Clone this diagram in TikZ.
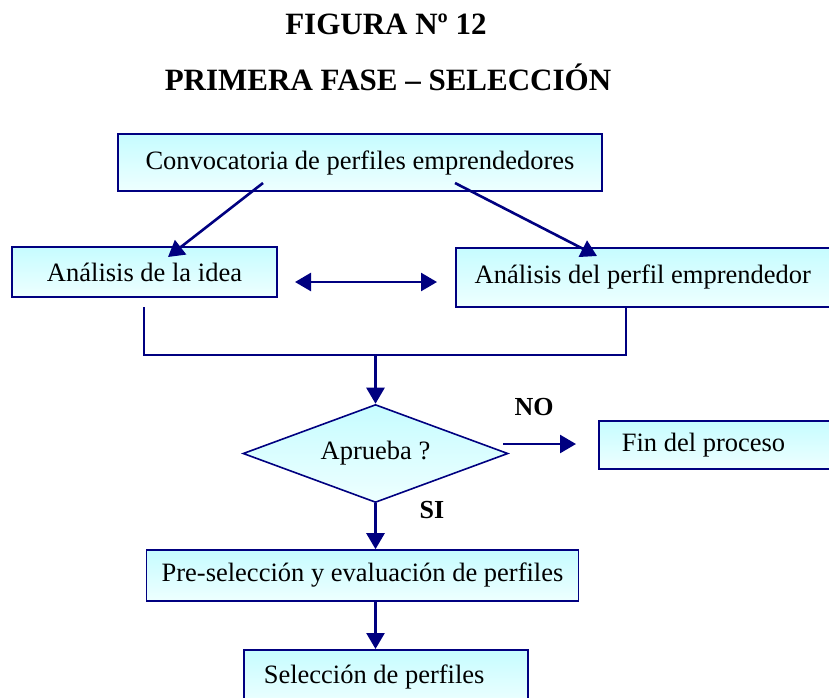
\documentclass[tikz,border=0pt]{standalone}
\usepackage{fontspec}
\setmainfont{Liberation Serif}
\usetikzlibrary{arrows.meta,shapes.geometric}
\definecolor{navy}{HTML}{000080}
\definecolor{boxtop}{HTML}{C6FCFF}
\definecolor{boxbot}{HTML}{EEFFFF}
\tikzset{
  boxa/.style={draw=navy, line width=1.6pt, top color=boxtop, bottom color=boxbot, inner sep=0pt, font=\fontsize{26.5}{30}\selectfont},
  link/.style={draw=navy, line width=2.6pt, -{Triangle[width=18pt,length=16pt]}},
  plain/.style={draw=navy, line width=2.2pt},
  lbl/.style={font=\bfseries\fontsize{26}{30}\selectfont},
  ttl/.style={font=\bfseries\fontsize{31}{36}\selectfont}
}
\begin{document}
\begin{tikzpicture}[x=1pt,y=-1pt]
\useasboundingbox (0,0) rectangle (829,697);
\node[ttl] (t1) at (386,24) {FIGURA Nº 12};
\node[ttl] (t2) at (388,77) {PRIMERA FASE – SELECCIÓN};
% boxes
\node[boxa, minimum width=484pt, minimum height=57pt] (conv) at (360,162.5) {Convocatoria de perfiles emprendedores};
\node[boxa, minimum width=265pt, minimum height=50pt] (idea) at (144.5,272) {Análisis de la idea};
\node[boxa, minimum width=374pt, minimum height=59pt, anchor=north west] (perf) at (455,247) {Análisis del perfil emprendedor};
\node[boxa, diamond, aspect=2.73, minimum width=265pt, minimum height=98pt] (dec) at (375.5,453.5) {Aprueba ?};
\node[boxa, minimum width=240pt, minimum height=48pt, anchor=north west, text width=236pt, align=flush left] (fin) at (598,420) {\hspace*{21pt}Fin del proceso};
\node[boxa, minimum width=432pt, minimum height=51pt] (pre) at (362.5,575.5) {Pre-selección y evaluación de perfiles};
\node[boxa, minimum width=284pt, minimum height=56pt, anchor=north west, text width=280pt, align=flush left] (sel) at (243,649) {\raisebox{8pt}{\hspace*{18pt}Selección de perfiles}};
% connectors
\coordinate (c1) at (263,183);
\coordinate (c1e) at (168,257);
\coordinate (c2) at (455,183);
\coordinate (c2e) at (597,256);
\draw[link] (c1) -- (c1e);
\draw[link] (c2) -- (c2e);
\coordinate (d1) at (295,282);
\coordinate (d2) at (437,282);
\draw[link, {Triangle[width=18pt,length=16pt]}-{Triangle[width=18pt,length=16pt]}] (d1) -- (d2);
\coordinate (l1) at (144,307);
\coordinate (l2) at (144,355);
\coordinate (r2) at (626,355);
\coordinate (m) at (375.5,355);
\draw[plain] (l1) -- (l2) -- (r2) -- (perf.south -| r2);
\draw[link] (m) -- (dec.north);
\coordinate (n1) at (503,444);
\coordinate (n2) at (576,444);
\draw[link] (n1) -- (n2);
\node[lbl] (no) at (534,407) {NO};
\node[lbl] (si) at (432,510) {SI};
\draw[link] (dec.south) -- (pre.north -| dec.south);
\draw[link] (pre.south -| dec.south) -- (sel.north -| dec.south);
\end{tikzpicture}
\end{document}
